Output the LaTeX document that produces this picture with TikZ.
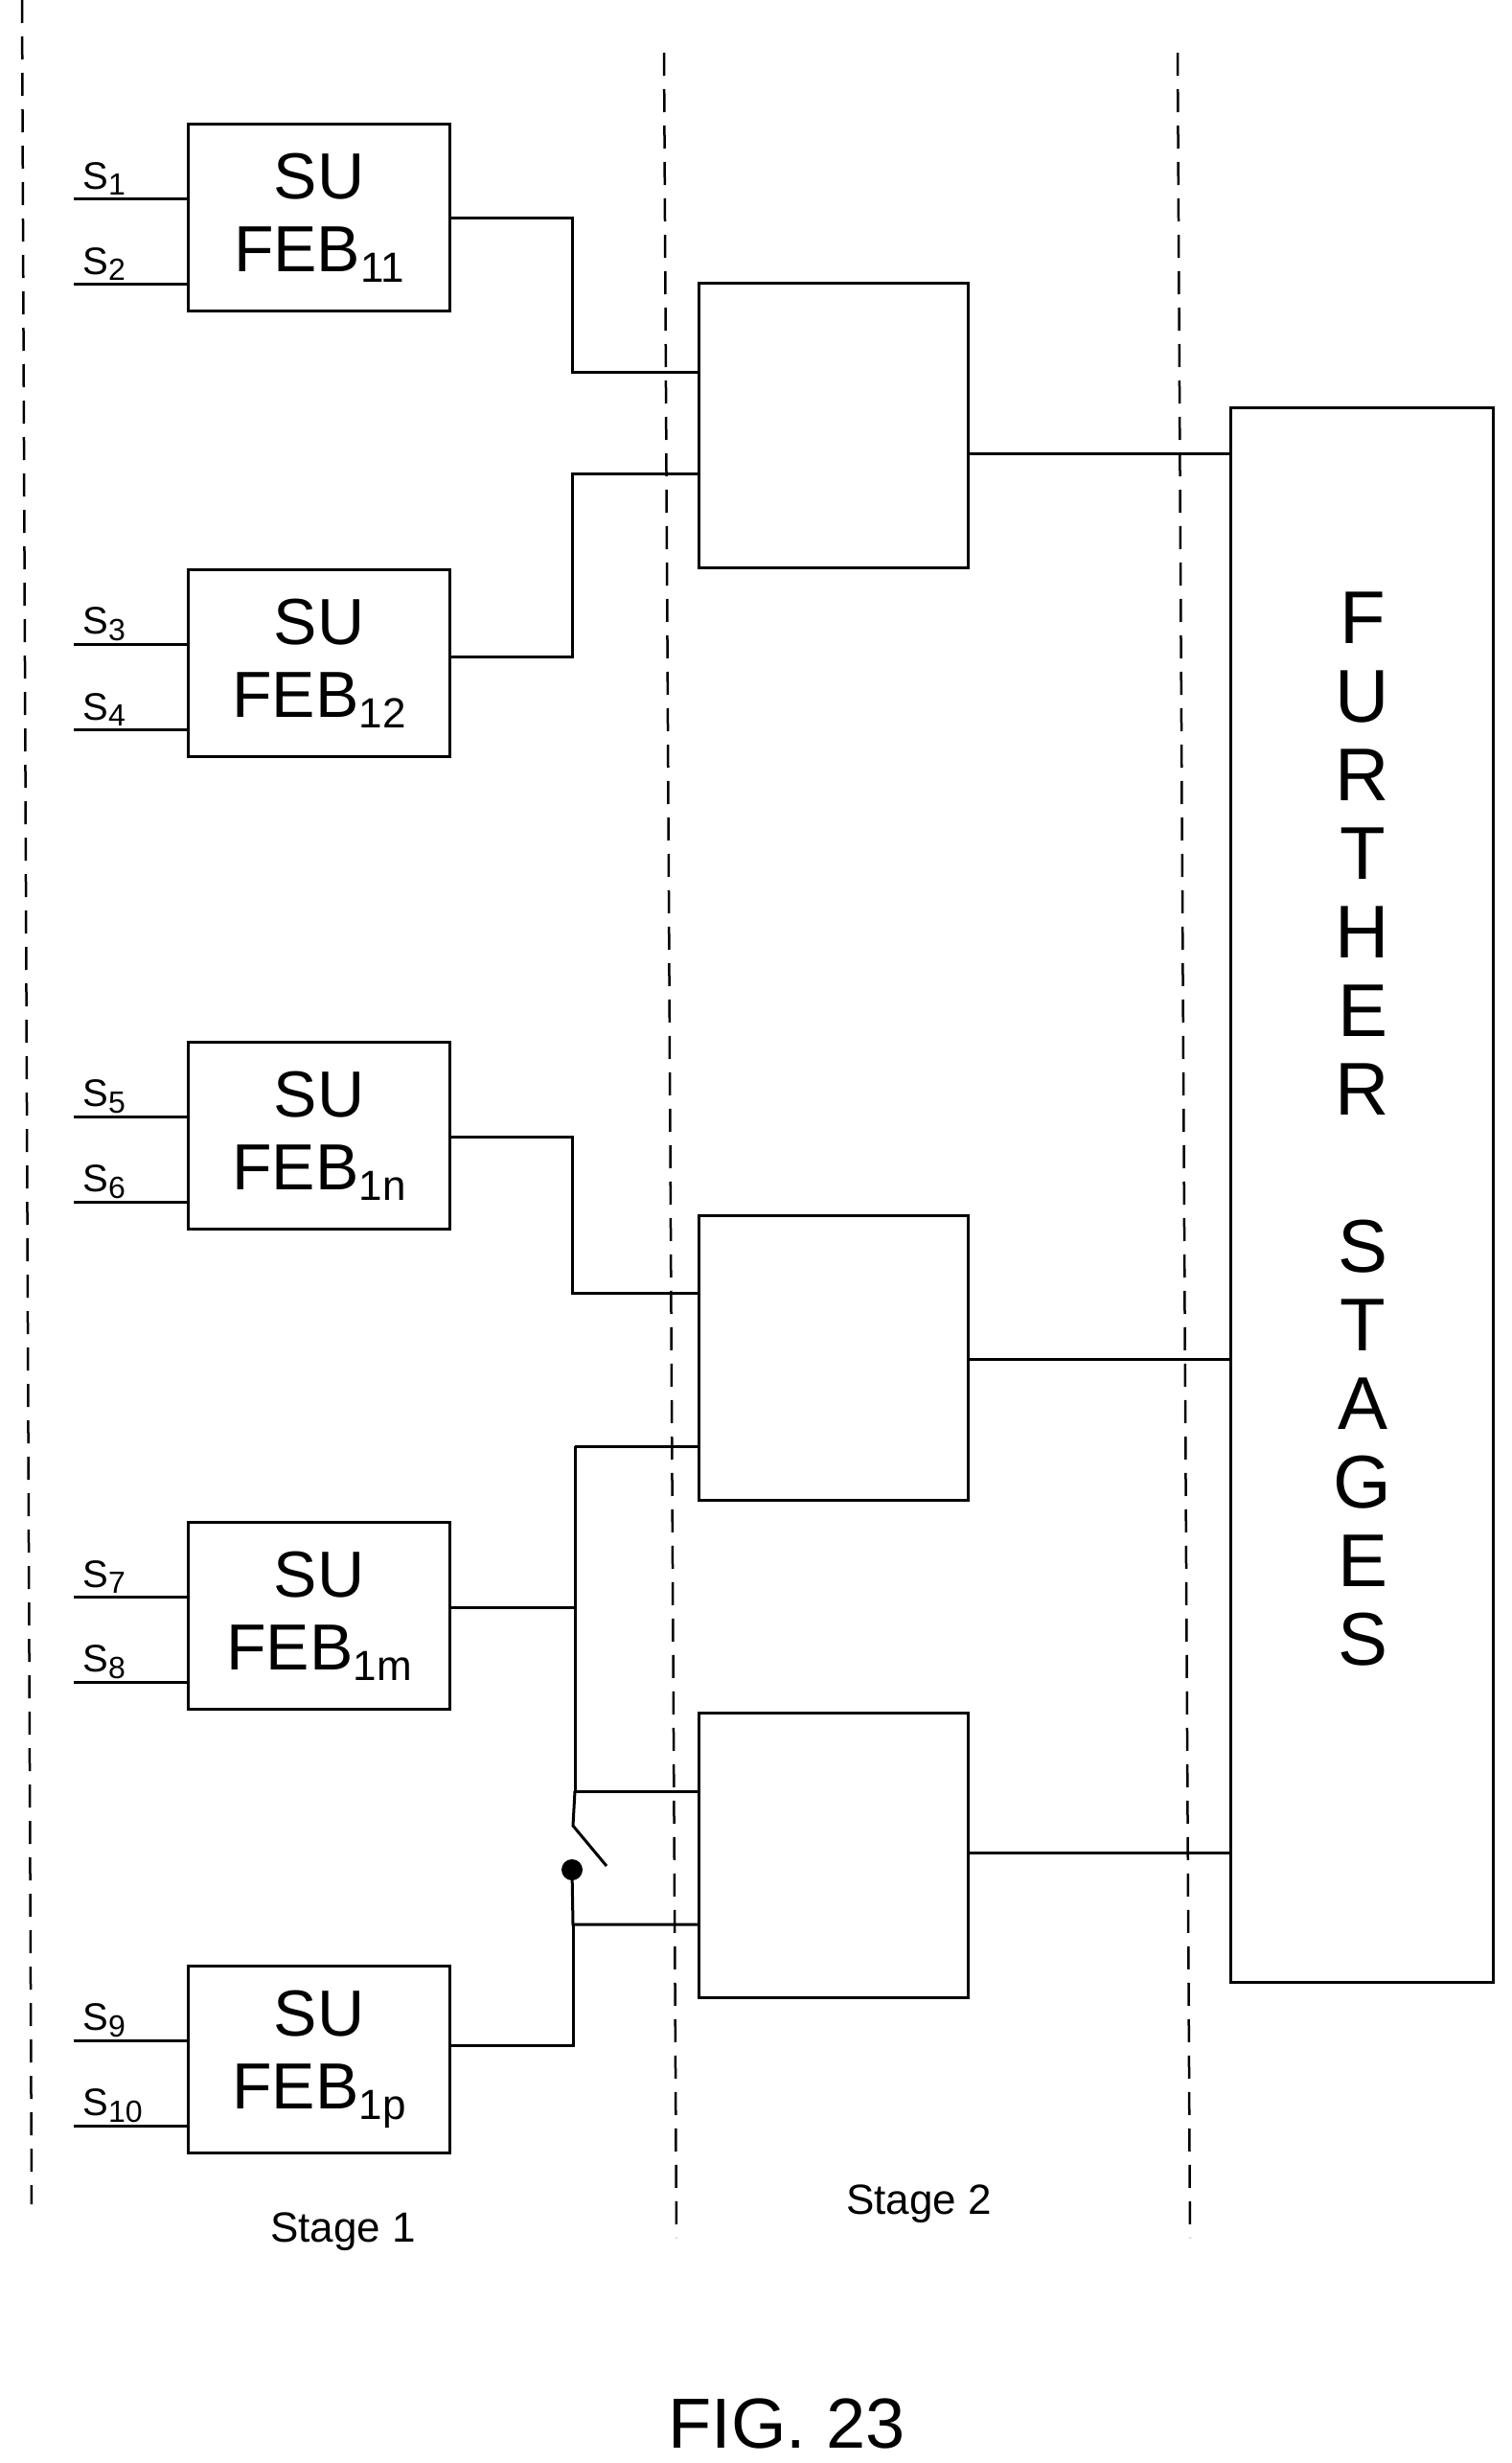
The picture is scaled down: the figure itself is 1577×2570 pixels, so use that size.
\documentclass[tikz,border=0pt]{standalone}
\usepackage{fontspec}
\setmainfont{Liberation Sans}
\begin{document}
\begin{tikzpicture}[x=1pt,y=-1pt,line width=3pt,
  feb/.style={draw,minimum width=273pt,minimum height=195pt,anchor=north west,inner sep=0pt,
    align=center,font=\fontsize{68}{76}\selectfont},
  sb/.style={draw,minimum width=281pt,minimum height=297pt,anchor=north west,inner sep=0pt},
  dl/.style={line width=2.5pt,dash pattern=on 24pt off 14pt},
  sl/.style={font=\fontsize{40}{44}\selectfont,anchor=south west,inner sep=2pt,xshift=6pt},
  st/.style={font=\fontsize{44}{50}\selectfont},
  w/.style={line width=3pt}]
\useasboundingbox (0,0) rectangle (1577,2570);
% dashed stage separators
\coordinate (d1a) at (23,0); \coordinate (d1b) at (33,2300);
\coordinate (d2a) at (693,55); \coordinate (d2b) at (706,2335);
\coordinate (d3a) at (1229,55); \coordinate (d3b) at (1242,2335);
\draw[dl] (d1a)--(d1b); \draw[dl] (d2a)--(d2b); \draw[dl] (d3a)--(d3b);
% FEB boxes
\foreach \n/\y/\sub/\a/\b in {f1/128/11/1/2, f2/593/12/3/4, f3/1086/1n/5/6, f4/1587/1m/7/8, f5/2050/1p/9/10}{
  \node[feb] (\n) at (195,\y) {SU\\FEB\raisebox{-0.3ex}{\fontsize{44}{46}\selectfont\sub}};
  \coordinate (\n i1) at (77,\y+79); \coordinate (\n i2) at (77,\y+168);
  \draw (\n i1) -- (195,\y+79); \draw (\n i2) -- (195,\y+168);
  \node[sl] at (\n i1) {S\raisebox{-0.3ex}{\fontsize{32}{34}\selectfont\a}};
  \node[sl] at (\n i2) {S\raisebox{-0.3ex}{\fontsize{32}{34}\selectfont\b}};
}
% stage 2 boxes
\node[sb] (A) at (728,294) {};
\node[sb] (B) at (728,1267) {};
\node[sb] (C) at (728,1786) {};
% further stages
\node[draw,minimum width=274pt,minimum height=1643pt,anchor=north west,inner sep=0pt] (F) at (1283,424) {};
\foreach \c [count=\i] in {F,U,R,T,H,E,R, ,S,T,A,G,E,S}{
  \node[font=\fontsize{78}{80}\selectfont] at (1422,645+82*\i-82) {\c};
}
% connections
\draw (f1.east |- 0,227) -| (597,388) -- (A.west |- 0,388);
\draw (f2.east |- 0,685) -| (597,494) -- (A.west |- 0,494);
\draw (f3.east |- 0,1186) -| (597,1349) -- (B.west |- 0,1349);
\draw (f4.east |- 0,1677) -- (600,1677);
\draw (600,1509) -- (B.west |- 0,1509);
\draw (600,1509) -- (600,1869) -- (C.west |- 0,1869);
\coordinate (sw1) at (598,1905); \coordinate (sw2) at (633,1947);
\draw (600,1869) -- (sw1) -- (sw2);
\node[circle,fill,inner sep=0pt,minimum size=22pt] (dot) at (597,1951) {};
\draw (dot.center) -- (598,2008) -- (C.west |- 0,2008);
\draw (598,2008) |- (f5.east |- 0,2134);
\draw (A.east |- 0,473) -- (F.west |- 0,473);
\draw (B.east |- 0,1418) -- (F.west |- 0,1418);
\draw (C.east |- 0,1933) -- (F.west |- 0,1933);
% labels
\node[st] (s1) at (358,2329) {Stage 1};
\node[st] (s2) at (959,2300) {Stage 2};
\node[font=\fontsize{74}{80}\selectfont] (fig) at (821,2529) {FIG. 23};
\end{tikzpicture}
\end{document}
